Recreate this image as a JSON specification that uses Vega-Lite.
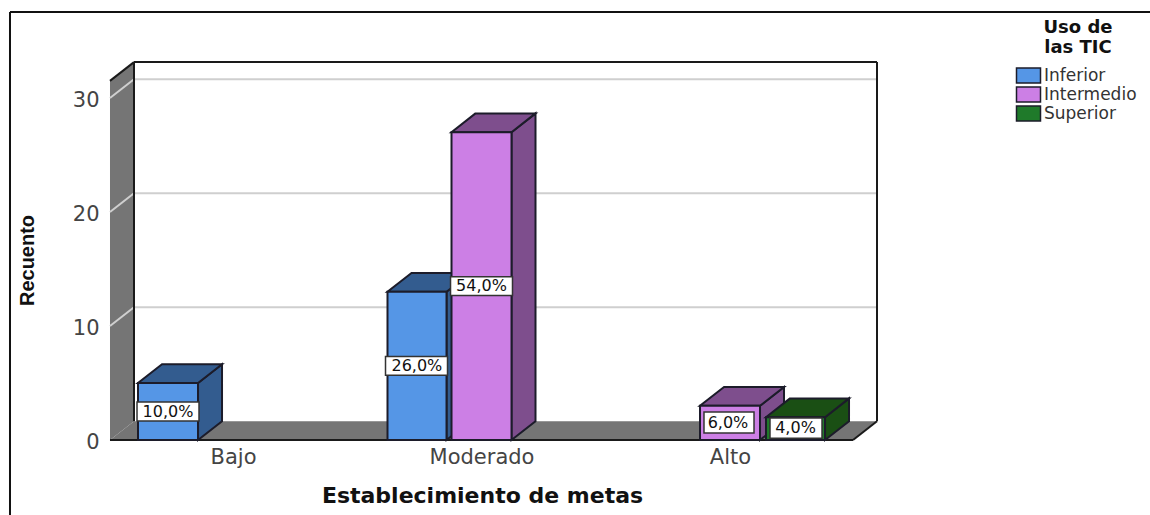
{
"$schema":"https://vega.github.io/schema/vega-lite/v6.json",
"width":767,"height":378,
"autosize":{"type":"none"},
"padding":{"left":110,"top":62,"right":273,"bottom":75},
"background":"white",
"config":{"view":{"stroke":null}},
"datasets":{
"bars":[
{"cat":"Bajo","serie":"Inferior","l":0.6177,"r":0.8592,"base":0,"recuento":5},
{"cat":"Moderado","serie":"Inferior","l":1.6217,"r":1.8592,"base":0,"recuento":13},
{"cat":"Moderado","serie":"Intermedio","l":1.8793,"r":2.1207,"base":0,"recuento":27},
{"cat":"Alto","serie":"Intermedio","l":2.8793,"r":3.1207,"base":0,"recuento":3},
{"cat":"Alto","serie":"Superior","l":3.1449,"r":3.3823,"base":0,"recuento":2}
],
"sides":[
{"bar":"a","serie":"Inferior","x":0.8592,"y":0,"y2":5},{"bar":"a","serie":"Inferior","x":0.9558,"y":1.65,"y2":6.65},
{"bar":"b","serie":"Inferior","x":1.8592,"y":0,"y2":13},{"bar":"b","serie":"Inferior","x":1.9558,"y":1.65,"y2":14.65},
{"bar":"c","serie":"Intermedio","x":2.1207,"y":0,"y2":27},{"bar":"c","serie":"Intermedio","x":2.2173,"y":1.65,"y2":28.65},
{"bar":"d","serie":"Intermedio","x":3.1207,"y":0,"y2":3},{"bar":"d","serie":"Intermedio","x":3.2173,"y":1.65,"y2":4.65},
{"bar":"e","serie":"Superior","x":3.3823,"y":0,"y2":2},{"bar":"e","serie":"Superior","x":3.4789,"y":1.65,"y2":3.65}
],
"tops":[
{"bar":"a","serie":"Inferior","y":5,"x":0.6177,"x2":0.8592},{"bar":"a","serie":"Inferior","y":6.65,"x":0.7143,"x2":0.9558},
{"bar":"b","serie":"Inferior","y":13,"x":1.6217,"x2":1.8592},{"bar":"b","serie":"Inferior","y":14.65,"x":1.7183,"x2":1.9558},
{"bar":"c","serie":"Intermedio","y":27,"x":1.8793,"x2":2.1207},{"bar":"c","serie":"Intermedio","y":28.65,"x":1.9759,"x2":2.2173},
{"bar":"d","serie":"Intermedio","y":3,"x":2.8793,"x2":3.1207},{"bar":"d","serie":"Intermedio","y":4.65,"x":2.9759,"x2":3.2173},
{"bar":"e","serie":"Superior","y":2,"x":3.1449,"x2":3.3823},{"bar":"e","serie":"Superior","y":3.65,"x":3.2415,"x2":3.4789}
],
"labels":[
{"texto":"10,0%","xc":0.7384,"yc":2.5,"l":0.6137,"r":0.8632,"b":1.67,"t":3.33},
{"texto":"26,0%","xc":1.74,"yc":6.5,"l":1.6137,"r":1.8632,"b":5.67,"t":7.33},
{"texto":"54,0%","xc":2,"yc":13.5,"l":1.8753,"r":2.1247,"b":12.67,"t":14.33},
{"texto":"6,0%","xc":2.9919,"yc":1.53,"l":2.8953,"r":3.0966,"b":0.61,"t":2.46},
{"texto":"4,0%","xc":3.2636,"yc":1.03,"l":3.1609,"r":3.3702,"b":0.15,"t":1.93}
],
"grid":[
{"x":0.6016,"x2":3.5915,"y":11.65,"y2":11.65},
{"x":0.6016,"x2":3.5915,"y":21.65,"y2":21.65},
{"x":0.6016,"x2":3.5915,"y":31.65,"y2":31.65},
{"x":0.505,"x2":0.6016,"y":10,"y2":11.65},
{"x":0.505,"x2":0.6016,"y":20,"y2":21.65},
{"x":0.505,"x2":0.6016,"y":30,"y2":31.65}
],
"frame":[
{"x":0.6016,"x2":3.5915,"y":33.15,"y2":33.15},
{"x":0.6016,"x2":0.6016,"y":1.65,"y2":33.15},
{"x":3.5915,"x2":3.5915,"y":1.65,"y2":33.15},
{"x":0.505,"x2":0.6016,"y":31.5,"y2":33.15},
{"x":0.505,"x2":3.495,"y":0,"y2":0},
{"x":3.495,"x2":3.5915,"y":0,"y2":1.65}
],
"border":[
{"x":0.1026,"x2":4.7,"y":37.54,"y2":37.54},
{"x":0.1026,"x2":0.1026,"y":-7,"y2":37.54}
]
},
"layer":[
{"data":{"values":[{"x":0.505,"y":0,"y2":31.5},{"x":0.6016,"y":1.65,"y2":33.15}]},
 "mark":{"type":"area","fill":"#757575","orient":"vertical"},
 "encoding":{
  "x":{"field":"x","type":"quantitative","scale":{"domain":[0.50503,3.5915],"nice":false,"zero":false},
   "axis":{"values":[1,2,3],"labelExpr":"datum.value==1?'Bajo':datum.value==2?'Moderado':'Alto'","title":"Establecimiento de metas","grid":false,"domain":false,"ticks":false,"labelFont":"DejaVu Sans","labelFontSize":21,"labelColor":"#444","labelPadding":6,"labelOverlap":false,"titleFont":"DejaVu Sans","titleFontSize":22,"titleFontWeight":"bold","titleColor":"#111","titleX":372,"titleY":62,"titleBaseline":"alphabetic"}},
  "y":{"field":"y","type":"quantitative","scale":{"domain":[0,33.158],"nice":false,"zero":false},
   "axis":{"values":[0,10,20,30],"title":"Recuento","grid":false,"domain":false,"ticks":false,"labelFont":"DejaVu Sans","labelFontSize":21,"labelColor":"#444","labelPadding":11,"labelOffset":2,"labelOverlap":false,"titleFont":"Liberation Sans","titleFontSize":20,"titleFontWeight":"bold","titleColor":"#111","titleX":-73,"titleY":198}},
  "y2":{"field":"y2"}}},
{"data":{"values":[{"y":0,"x":0.505,"x2":3.495},{"y":1.65,"x":0.6016,"x2":3.5915}]},
 "mark":{"type":"area","fill":"#757575","orient":"horizontal"},
 "encoding":{"y":{"field":"y","type":"quantitative"},"x":{"field":"x","type":"quantitative"},"x2":{"field":"x2"}}},
{"data":{"name":"grid"},"mark":{"type":"rule","stroke":"#cfcfcf","strokeWidth":2},
 "encoding":{"x":{"field":"x","type":"quantitative"},"x2":{"field":"x2"},"y":{"field":"y","type":"quantitative"},"y2":{"field":"y2"}}},
{"data":{"name":"frame"},"mark":{"type":"rule","stroke":"#1a1a1a","strokeWidth":2},
 "encoding":{"x":{"field":"x","type":"quantitative"},"x2":{"field":"x2"},"y":{"field":"y","type":"quantitative"},"y2":{"field":"y2"}}},
{"data":{"name":"sides"},"mark":{"type":"area","orient":"vertical","stroke":"#1c1c2a","strokeWidth":2},
 "encoding":{"x":{"field":"x","type":"quantitative"},"y":{"field":"y","type":"quantitative"},"y2":{"field":"y2"},"detail":{"field":"bar","type":"nominal"},
  "fill":{"field":"serie","type":"nominal","scale":{"domain":["Inferior","Intermedio","Superior"],"range":["#335C8F","#7E4E8D","#1A4F14"]},"legend":null}}},
{"data":{"name":"tops"},"mark":{"type":"area","orient":"horizontal","stroke":"#1c1c2a","strokeWidth":2},
 "encoding":{"y":{"field":"y","type":"quantitative"},"x":{"field":"x","type":"quantitative"},"x2":{"field":"x2"},"detail":{"field":"bar","type":"nominal"},
  "fill":{"field":"serie","type":"nominal","scale":{"domain":["Inferior","Intermedio","Superior"],"range":["#335C8F","#7E4E8D","#1A4F14"]},"legend":null}}},
{"data":{"name":"bars"},"mark":{"type":"rect","stroke":"#1c1c2a","strokeWidth":2},
 "encoding":{"x":{"field":"l","type":"quantitative"},"x2":{"field":"r"},"y":{"field":"base","type":"quantitative"},"y2":{"field":"recuento"},
  "fill":{"field":"serie","type":"nominal","scale":{"domain":["Inferior","Intermedio","Superior"],"range":["#5596E6","#CC7FE5","#1F7A2A"]},
   "legend":{"title":["Uso de","las TIC"],"orient":"none","legendX":910,"legendY":-43,"padding":0,"titleFont":"DejaVu Sans","titleFontSize":18,"titleFontWeight":"bold","titleColor":"#111","titleLineHeight":20,"titleAnchor":"middle","titlePadding":10,"labelFont":"DejaVu Sans","labelFontSize":17,"labelColor":"#333","labelOffset":7,"rowPadding":-2,"symbolType":"M-2.4,-1.5H2.4V1.5H-2.4Z","symbolSize":100,"symbolStrokeColor":"#1c1c2a","symbolStrokeWidth":1.5,"symbolOpacity":1}}}},
{"data":{"name":"labels"},"mark":{"type":"rect","fill":"white","stroke":"#333","strokeWidth":1.5},
 "encoding":{"x":{"field":"l","type":"quantitative"},"x2":{"field":"r"},"y":{"field":"b","type":"quantitative"},"y2":{"field":"t"}}},
{"data":{"name":"labels"},"mark":{"type":"text","font":"DejaVu Sans","fontSize":16,"color":"#111","align":"center","baseline":"middle"},
 "encoding":{"x":{"field":"xc","type":"quantitative"},"y":{"field":"yc","type":"quantitative"},"text":{"field":"texto","type":"nominal"}}},
{"data":{"name":"border"},"mark":{"type":"rule","stroke":"#111","strokeWidth":2},
 "encoding":{"x":{"field":"x","type":"quantitative"},"x2":{"field":"x2"},"y":{"field":"y","type":"quantitative"},"y2":{"field":"y2"}}}
],
"resolve":{"scale":{"fill":"independent"}}
}
